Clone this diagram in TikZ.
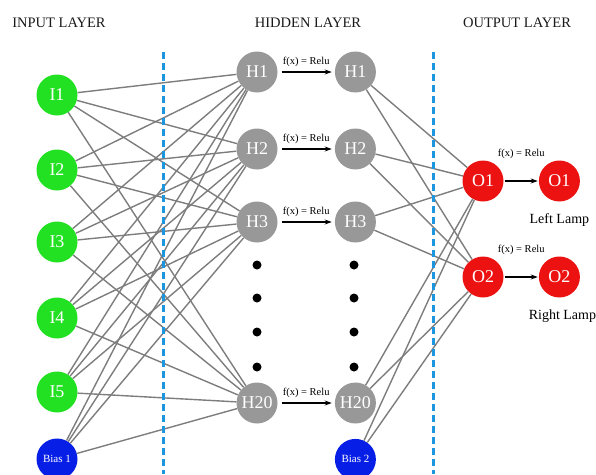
\documentclass[tikz,border=0pt]{standalone}
\usepackage{fontspec}
\setmainfont{Liberation Serif}
\usetikzlibrary{arrows.meta, positioning}
\definecolor{verde}{RGB}{34,224,34}
\definecolor{gris}{RGB}{152,152,152}
\definecolor{rojo}{RGB}{236,18,18}
\definecolor{azul}{RGB}{6,30,230}
\definecolor{celeste}{RGB}{28,150,222}
\definecolor{linea}{RGB}{125,125,125}

\begin{document}
\begin{tikzpicture}[
        x=1pt, y=-1pt,
        neuron/.style={circle, minimum size=41pt, inner sep=0pt, text=white, font=\fontsize{18}{18}\selectfont},
        input/.style={neuron, fill=verde},
        hidden/.style={neuron, fill=gris},
        output/.style={neuron, fill=rojo},
        bias/.style={neuron, fill=azul, font=\fontsize{11}{11}\selectfont},
        conn/.style={draw=linea, line width=1.4pt},
        arrow/.style={-{Stealth[length=7pt, width=5pt]}, line width=1.1pt, shorten <=4pt, shorten >=3pt},
        divider/.style={celeste, line width=3pt, dash pattern=on 7pt off 4pt},
        title/.style={font=\fontsize{14.5}{16}\selectfont, text=black!90},
        fxlabel/.style={font=\fontsize{10.5}{11}\selectfont, inner sep=1pt},
        lamp/.style={font=\fontsize{14}{16}\selectfont},
        dot/.style={circle, fill=black, minimum size=9pt, inner sep=0pt}
    ]
        \useasboundingbox (0,0) rectangle (596,474);

        % layer titles
        \node[title] (tin) at (59,23) {INPUT LAYER};
        \node[title] (thid) at (308,23) {HIDDEN LAYER};
        \node[title] (tout) at (517,23) {OUTPUT LAYER};

        % input layer
        \node[input] (i1) at (57,95) {I1};
        \node[input] (i2) at (57,170) {I2};
        \node[input] (i3) at (57,242) {I3};
        \node[input] (i4) at (57,318) {I4};
        \node[input] (i5) at (57,392) {I5};
        \node[bias] (b1) at (57,459) {Bias 1};

        % hidden layer
        \node[hidden] (h1) at (257,72) {H1};
        \node[hidden] (h2) at (257,149) {H2};
        \node[hidden] (h3) at (257,222) {H3};
        \node[hidden] (h20) at (257,403) {H20};
        \node[hidden, right=57pt of h1] (h1r) {H1};
        \node[hidden, right=57pt of h2] (h2r) {H2};
        \node[hidden, right=57pt of h3] (h3r) {H3};
        \node[hidden, right=57pt of h20] (h20r) {H20};
        \node[bias, below=15pt of h20r] (b2) {Bias 2};

        \node[dot] (d1) at (257,265) {};
        \node[dot] (d2) at (257,298) {};
        \node[dot] (d3) at (257,332) {};
        \node[dot] (d4) at (257,367) {};
        \node[dot] (d1r) at (354,265) {};
        \node[dot] (d2r) at (354,298) {};
        \node[dot] (d3r) at (354,332) {};
        \node[dot] (d4r) at (354,367) {};

        % output layer
        \node[output] (o1) at (483,181) {O1};
        \node[output] (o2) at (483,277) {O2};
        \node[output, right=35pt of o1] (o1r) {O1};
        \node[output, right=35pt of o2] (o2r) {O2};
        \node[lamp, below=8pt of o1r] (left) {Left Lamp};
        \node[lamp, below=9pt of o2r, xshift=3pt] (right) {Right Lamp};

        % activations
        \draw[arrow] (h1) -- node[fxlabel, above=4pt] {f(x) = Relu} (h1r);
        \draw[arrow] (h2) -- node[fxlabel, above=4pt] {f(x) = Relu} (h2r);
        \draw[arrow] (h3) -- node[fxlabel, above=4pt] {f(x) = Relu} (h3r);
        \draw[arrow] (h20) -- node[fxlabel, above=4pt] {f(x) = Relu} (h20r);
        \draw[arrow, shorten <=1pt, shorten >=1pt] (o1) -- node[fxlabel, above=21pt] {f(x) = Relu} (o1r);
        \draw[arrow, shorten <=1pt, shorten >=1pt] (o2) -- node[fxlabel, above=21pt] {f(x) = Relu} (o2r);

        % input -> hidden
        \draw[conn] (i1) -- (h1) (i1) -- (h2) (i1) -- (h3) (i1) -- (h20);
        \draw[conn] (i2) -- (h1) (i2) -- (h2) (i2) -- (h3) (i2) -- (h20);
        \draw[conn] (i3) -- (h1) (i3) -- (h2) (i3) -- (h3) (i3) -- (h20);
        \draw[conn] (i4) -- (h1) (i4) -- (h2) (i4) -- (h3) (i4) -- (h20);
        \draw[conn] (i5) -- (h1) (i5) -- (h2) (i5) -- (h3) (i5) -- (h20);
        \draw[conn] (b1) -- (h1) (b1) -- (h2) (b1) -- (h3) (b1) -- (h20);

        % hidden -> output
        \draw[conn] (h1r) -- (o1) (h1r) -- (o2);
        \draw[conn] (h2r) -- (o1) (h2r) -- (o2);
        \draw[conn] (h3r) -- (o1) (h3r) -- (o2);
        \draw[conn] (h20r) -- (o1) (h20r) -- (o2);
        \draw[conn] (b2) -- (o1) (b2) -- (o2);

        % layer dividers
        \coordinate (sep1top) at (163,52);
        \coordinate (sep1bot) at (163,474);
        \coordinate (sep2top) at (433,52);
        \coordinate (sep2bot) at (433,474);
        \draw[divider] (sep1top) -- (sep1bot);
        \draw[divider] (sep2top) -- (sep2bot);
    \end{tikzpicture}
\end{document}
